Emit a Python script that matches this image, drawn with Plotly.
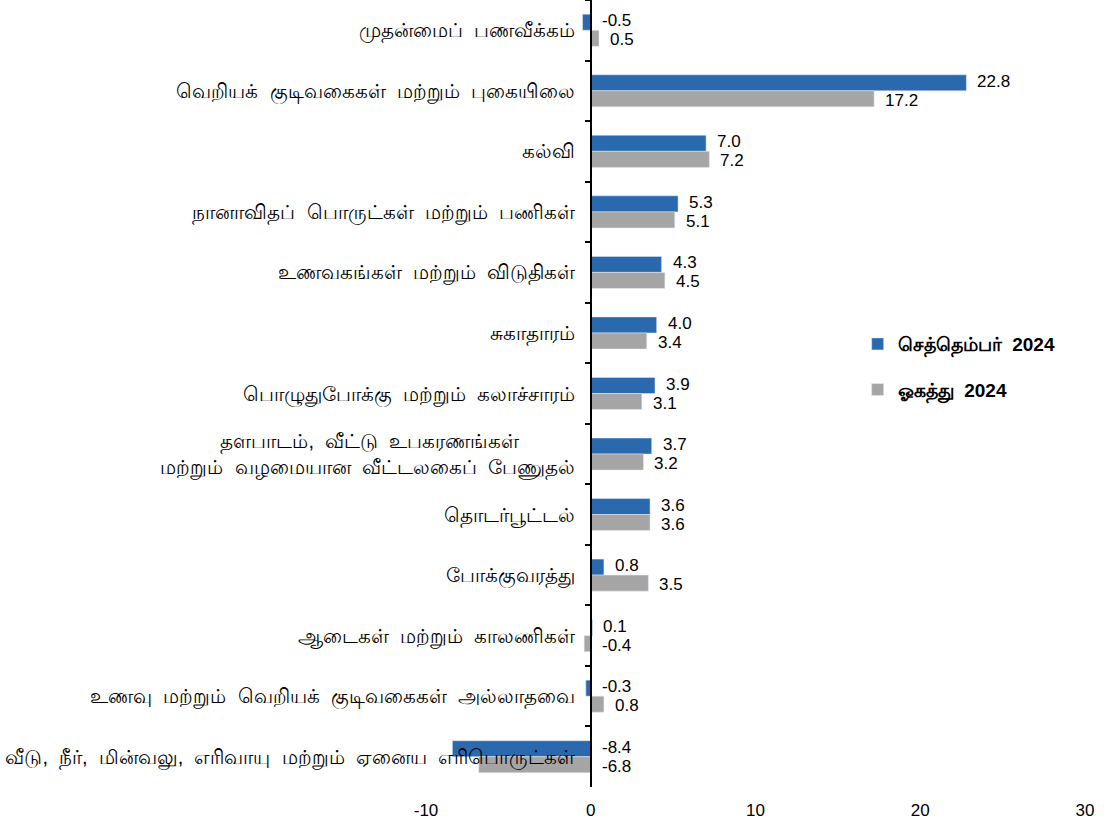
import plotly.graph_objects as go

categories = [
    "முதன்மைப் பணவீக்கம்",
    "வெறியக் குடிவகைகள் மற்றும் புகையிலை",
    "கல்வி",
    "நானாவிதப் பொருட்கள் மற்றும் பணிகள்",
    "உணவகங்கள் மற்றும் விடுதிகள்",
    "சுகாதாரம்",
    "பொழுதுபோக்கு மற்றும் கலாச்சாரம்",
    "தளபாடம், வீட்டு உபகரணங்கள்<br>மற்றும் வழமையான வீட்டலகைப் பேணுதல்",
    "தொடர்பூட்டல்",
    "போக்குவரத்து",
    "ஆடைகள் மற்றும் காலணிகள்",
    "உணவு மற்றும் வெறியக் குடிவகைகள் அல்லாதவை",
    "வீடு, நீர், மின்வலு, எரிவாயு மற்றும் ஏனைய எரிபொருட்கள்",
]
sep_2024 = [-0.5, 22.8, 7.0, 5.3, 4.3, 4.0, 3.9, 3.7, 3.6, 0.8, 0.1, -0.3, -8.4]
aug_2024 = [0.5, 17.2, 7.2, 5.1, 4.5, 3.4, 3.1, 3.2, 3.6, 3.5, -0.4, 0.8, -6.8]
series_names = ["செத்தெம்பர்  2024", "ஓகத்து  2024"]
x_ticks = [-10, 0, 10, 20, 30]

BLUE = "#2B69AE"
GRAY = "#A5A5A5"

def widen(s):
    # wider word spacing, as in the reference rendering; centre the first line of two-line labels
    s = s.replace(" ", " \u00a0")
    if "<br>" in s:
        first, second = s.split("<br>")
        s = first + "\u00a0" * 10 + "<br>" + second
    return s

cat_labels = [widen(c) for c in categories]
legend_names = [n.replace("  ", " \u00a0") for n in series_names]

fig = go.Figure()
fig.add_trace(go.Bar(y=cat_labels, x=sep_2024, orientation="h", name=legend_names[0],
                     marker=dict(color=BLUE), legendgroup="a"))
fig.add_trace(go.Bar(y=cat_labels, x=aug_2024, orientation="h", name=legend_names[1],
                     marker=dict(color=GRAY), legendgroup="b"))

annotations = []
for vals, shift in ((sep_2024, 9.5), (aug_2024, -9.5)):
    for c, v in zip(cat_labels, vals):
        annotations.append(dict(
            x=max(v, 0), y=c, xref="x", yref="y", text=f"{v:.1f}",
            showarrow=False, xanchor="left", yanchor="middle", xshift=9, yshift=shift,
            font=dict(family="Liberation Sans, Arial", size=17, color="black")))

fig.update_layout(
    width=1109, height=830,
    margin=dict(l=426, r=24, t=0, b=43),
    paper_bgcolor="white", plot_bgcolor="white",
    barmode="group", bargap=0.47, bargroupgap=0,
    showlegend=True,
    legend=dict(x=0.655, y=0.587, xanchor="left", yanchor="top",
                traceorder="grouped", tracegroupgap=18,
                font=dict(family="Liberation Sans, Arial", size=19, color="black", weight="bold"),
                bgcolor="rgba(0,0,0,0)", itemwidth=30),
    annotations=annotations,
    font=dict(family="Liberation Sans, Arial", color="black"),
)
fig.update_xaxes(range=[-10, 30], tickvals=x_ticks, ticktext=[str(t) for t in x_ticks],
                 showgrid=False, zeroline=False, showline=False,
                 ticks="outside", ticklen=8, tickcolor="rgba(0,0,0,0)",
                 tickfont=dict(family="Liberation Sans, Arial", size=17, color="black"),
                 fixedrange=True)
fig.update_yaxes(autorange="reversed", type="category", anchor="free", position=0.25,
                 showline=True, linecolor="black", linewidth=2,
                 ticks="outside", tickson="boundaries", ticklen=5, tickcolor="black", tickwidth=2,
                 showgrid=False, zeroline=False, automargin=False,
                 tickfont=dict(size=20, color="black"), ticklabelstandoff=11)

fig.write_html("out.html", config={"displayModeBar": False},
               post_script="document.body.style.margin='0';")
